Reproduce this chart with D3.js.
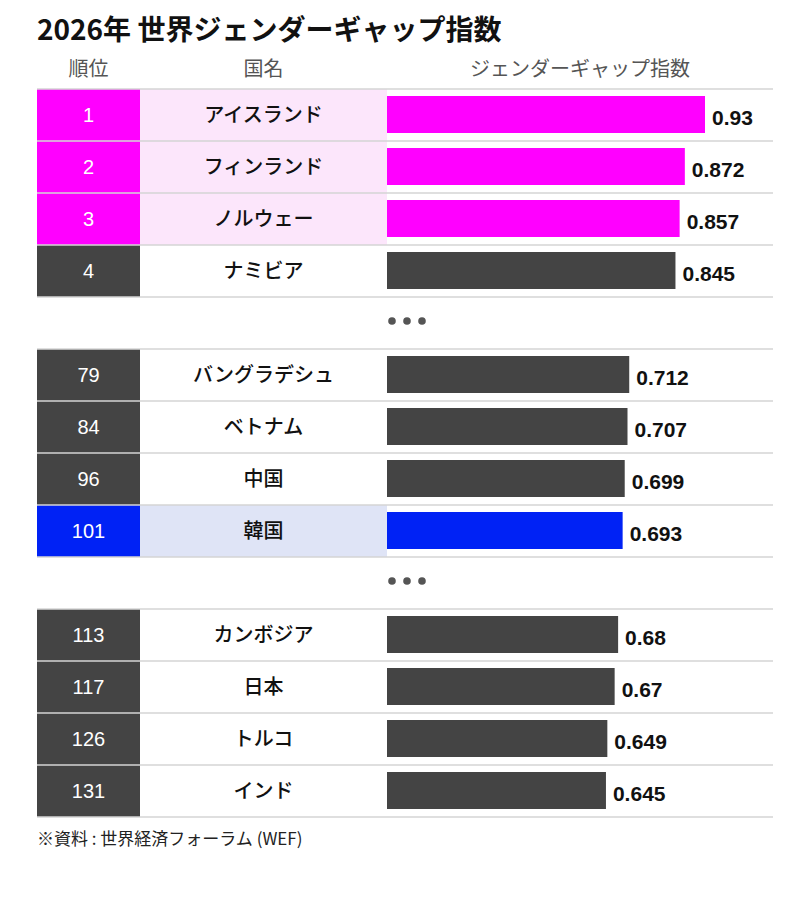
<!DOCTYPE html>
<html>
<head>
<meta charset="utf-8">
<style>
    body { margin: 0; background: #fff; }
    svg { display: block; }
    .jp { font-family: 'Noto Sans CJK JP', 'Noto Sans', sans-serif; }
    .num { font-family: 'Liberation Sans', Arial, sans-serif; }
</style>
</head>
<body>
<svg width="810" height="898"></svg>

<script src="https://d3js.org/d3.v7.min.js"></script>
<script>
    // data
    const ranks = [1, 2, 3, 4, 79, 84, 96, 101, 113, 117, 126, 131];
    const countries = ["アイスランド", "フィンランド", "ノルウェー", "ナミビア",
        "バングラデシュ", "ベトナム", "中国", "韓国",
        "カンボジア", "日本", "トルコ", "インド"];
    const scores = [0.93, 0.872, 0.857, 0.845, 0.712, 0.707, 0.699, 0.693, 0.68, 0.67, 0.649, 0.645];
    const groups = [0, 0, 0, 0, 1, 1, 1, 1, 2, 2, 2, 2];
    const marks = ["top", "top", "top", "", "", "", "", "kr", "", "", "", ""];
    const headers = ["順位", "国名", "ジェンダーギャップ指数"];

    let rows = ranks.map((r, i) => ({
        rank: r, name: countries[i], score: scores[i],
        slot: i + groups[i], mark: marks[i]
    }));

    let svg = d3.select("svg");

    let left = 37, right = 773;
    let rankW = 103, nameEnd = 387;

    // 14 slots: 12 rows + 2 gaps with dots
    let y = d3.scaleBand()
        .domain(d3.range(14))
        .range([89, 817])
        .padding(0);

    let x = d3.scaleLinear()
        .domain([0.015, 0.93])
        .range([nameEnd, 705]);

    let rankFill = { top: "#ff00ff", kr: "#0022f5", "": "#444444" };
    let nameFill = { top: "#fce6fb", kr: "#dfe4f6", "": "#ffffff" };
    let barFill = { top: "#ff00ff", kr: "#0022f5", "": "#444444" };

    // title
    svg.append("text")
        .attr("class", "jp")
        .attr("x", left)
        .attr("y", 40)
        .style("font-size", "28px")
        .style("font-weight", 700)
        .style("fill", "#111")
        .text("2026年 世界ジェンダーギャップ指数");

    // column headers
    let headX = [left + rankW / 2, (left + rankW + nameEnd) / 2, (nameEnd + right) / 2];
    svg.selectAll(".head")
        .data(headers)
        .join("text")
        .attr("class", "head jp")
        .attr("x", (d, i) => headX[i])
        .attr("y", 76)
        .attr("text-anchor", "middle")
        .style("font-size", "20px")
        .style("fill", "#555")
        .text(d => d);

    let row = svg.selectAll(".row")
        .data(rows)
        .join("g")
        .attr("class", "row")
        .attr("transform", d => `translate(0,${y(d.slot)})`);

    let h = y.bandwidth();

    row.append("rect")
        .attr("x", left)
        .attr("width", rankW)
        .attr("height", h)
        .style("fill", d => rankFill[d.mark]);

    row.append("rect")
        .attr("x", left + rankW)
        .attr("width", nameEnd - left - rankW)
        .attr("height", h)
        .style("fill", d => nameFill[d.mark]);

    row.append("rect")
        .attr("x", x(0.015))
        .attr("y", 7)
        .attr("width", d => x(d.score) - x(0.015))
        .attr("height", 37)
        .style("fill", d => barFill[d.mark]);

    row.append("text")
        .attr("class", "num")
        .attr("x", left + rankW / 2)
        .attr("y", h / 2 + 7)
        .attr("text-anchor", "middle")
        .style("font-size", "20px")
        .style("fill", "#fff")
        .text(d => d.rank);

    row.append("text")
        .attr("class", "jp")
        .attr("x", (left + rankW + nameEnd) / 2)
        .attr("y", h / 2 + 7)
        .attr("text-anchor", "middle")
        .style("font-size", "20px")
        .style("font-weight", 500)
        .style("fill", "#111")
        .text(d => d.name);

    row.append("text")
        .attr("class", "num")
        .attr("x", d => x(d.score) + 7)
        .attr("y", h / 2 + 10)
        .style("font-size", "21px")
        .style("font-weight", 700)
        .style("fill", "#111")
        .text(d => d.score);

    // grid lines: top of each row and bottom of each row
    let lineYs = [];
    rows.forEach(d => {
        lineYs.push(y(d.slot));
        lineYs.push(y(d.slot) + h);
    });
    lineYs = Array.from(new Set(lineYs));

    svg.selectAll(".grid")
        .data(lineYs)
        .join("line")
        .attr("class", "grid")
        .attr("x1", left)
        .attr("x2", right)
        .attr("y1", d => d)
        .attr("y2", d => d)
        .style("stroke", "#d4d4d4")
        .style("stroke-width", 1.5);

    // ellipsis dots in the gap slots
    let gapSlots = [4, 9];
    let dotX = [392, 407, 422];
    gapSlots.forEach(s => {
        svg.selectAll(".dot-" + s)
            .data(dotX)
            .join("circle")
            .attr("class", "dot-" + s)
            .attr("cx", d => d)
            .attr("cy", y(s) + h / 2 - 2)
            .attr("r", 3.8)
            .style("fill", "#555");
    });

    // source note
    svg.append("text")
        .attr("class", "jp")
        .attr("x", left)
        .attr("y", 845)
        .style("font-size", "17px")
        .style("fill", "#222")
        .text("※資料 : 世界経済フォーラム (WEF)");
</script>
</body>
</html>
